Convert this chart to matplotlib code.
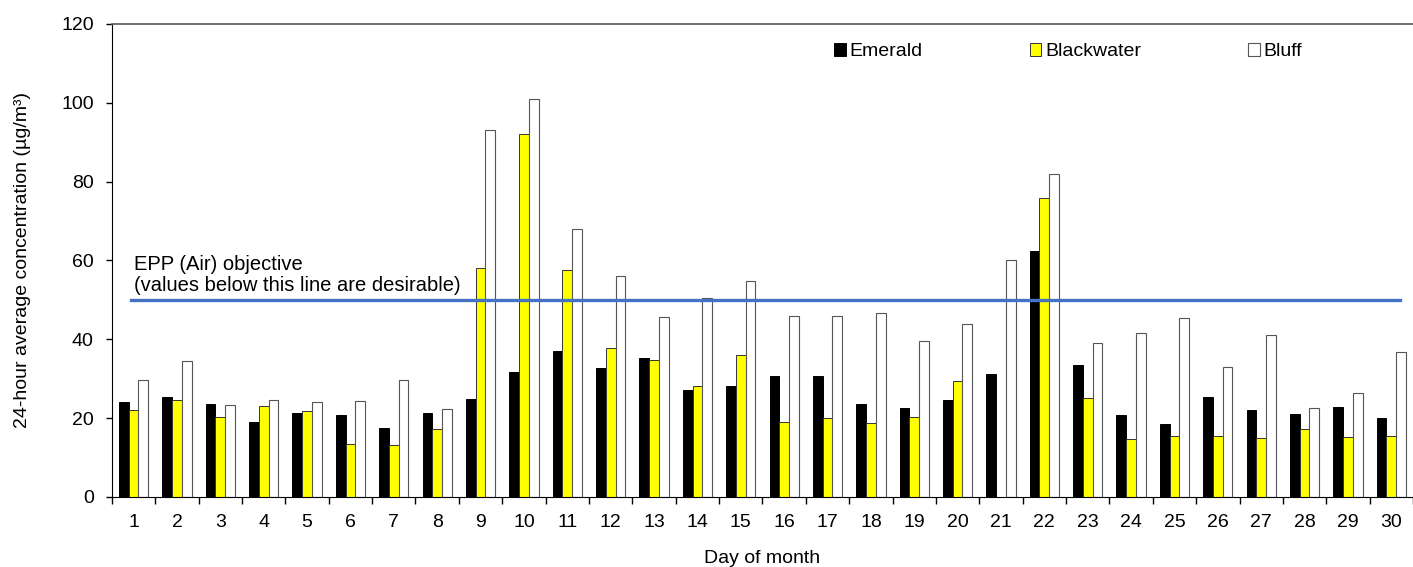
import numpy as np
import matplotlib
matplotlib.use("Agg")
import matplotlib.pyplot as plt
from matplotlib.patches import Patch

plt.rcParams['font.family'] = ['Liberation Sans', 'DejaVu Sans']

days = list(range(1, 31))

emerald = [24.2, 25.4, 23.6, 19.1, 21.4, 20.7, 17.4, 21.4, 24.9, 31.6,
           37.1, 32.6, 35.2, 27.1, 28.1, 30.6, 30.6, 23.5, 22.6, 24.5,
           31.1, 62.4, 33.6, 20.9, 18.6, 25.3, 22.1, 21.0, 22.9, 20.1]
blackwater = [22.1, 24.5, 20.2, 23.1, 21.7, 13.4, 13.1, 17.2, 58.2, 92.1,
              57.5, 37.9, 34.7, 28.1, 36.1, 19.1, 20.0, 18.7, 20.3, 29.4,
              0.0, 75.8, 25.0, 14.7, 15.4, 15.5, 15.0, 17.2, 15.1, 15.4]
bluff = [29.6, 34.5, 23.4, 24.5, 24.1, 24.3, 29.6, 22.4, 93.0, 101.0,
         68.0, 56.0, 45.6, 50.6, 54.9, 45.8, 45.9, 46.6, 39.6, 43.9,
         60.2, 81.9, 39.1, 41.7, 45.5, 32.9, 41.1, 22.7, 26.5, 36.8]

objective = 50
objective_text = "EPP (Air) objective\n(values below this line are desirable)"

fig = plt.figure(figsize=(14.13, 5.67), dpi=100)
ax = fig.add_axes([0.0792, 0.1235, 0.9208, 0.8342])

x = np.array(days)
w = 0.225
ax.bar(x - w, emerald, w, color='black', edgecolor='black', linewidth=0.7)
ax.bar(x, blackwater, w, color='#FFFF00', edgecolor='#333333', linewidth=0.7)
ax.bar(x + w, bluff, w, color='white', edgecolor='#555555', linewidth=0.8)

# objective line + note
ax.plot([0.95, 30.2], [objective, objective], color='#4472C4', linewidth=2.4)
ax.text(1.0, 51.3, objective_text, fontsize=14.5, va='bottom', ha='left', linespacing=1.1)

ax.set_xlim(0.5, 30.5)
ax.set_ylim(0, 120)
ax.set_yticks(np.arange(0, 121, 20))
ax.set_xticks(x)
ax.set_xticklabels([str(d) for d in days])
ax.set_xticks(np.arange(0.5, 31, 1), minor=True)
ax.tick_params(axis='x', which='major', length=0, labelsize=14, pad=12)
ax.tick_params(axis='x', which='minor', length=5, width=1, color='black')
ax.tick_params(axis='y', length=4, width=1, labelsize=14, pad=9)

ax.spines['right'].set_visible(False)
ax.spines['top'].set_color('#595959')
ax.spines['top'].set_linewidth(1.2)
ax.spines['left'].set_color('black')
ax.spines['bottom'].set_color('black')

ax.set_xlabel("Day of month", fontsize=14, labelpad=14)
ax.set_ylabel("24-hour average concentration (µg/m³)", fontsize=14, labelpad=22)

handles = [Patch(facecolor='black', edgecolor='black', linewidth=0.7),
           Patch(facecolor='#FFFF00', edgecolor='#333333', linewidth=0.7),
           Patch(facecolor='white', edgecolor='#555555', linewidth=0.8)]
ax.legend(handles, ['Emerald', 'Blackwater', 'Bluff'], loc='center',
          bbox_to_anchor=(0.735, 0.941), ncol=3, frameon=False, fontsize=14,
          handlelength=0.6, handleheight=0.6, handletextpad=0.2,
          columnspacing=5.5)

fig.savefig("out.png", dpi=100)
